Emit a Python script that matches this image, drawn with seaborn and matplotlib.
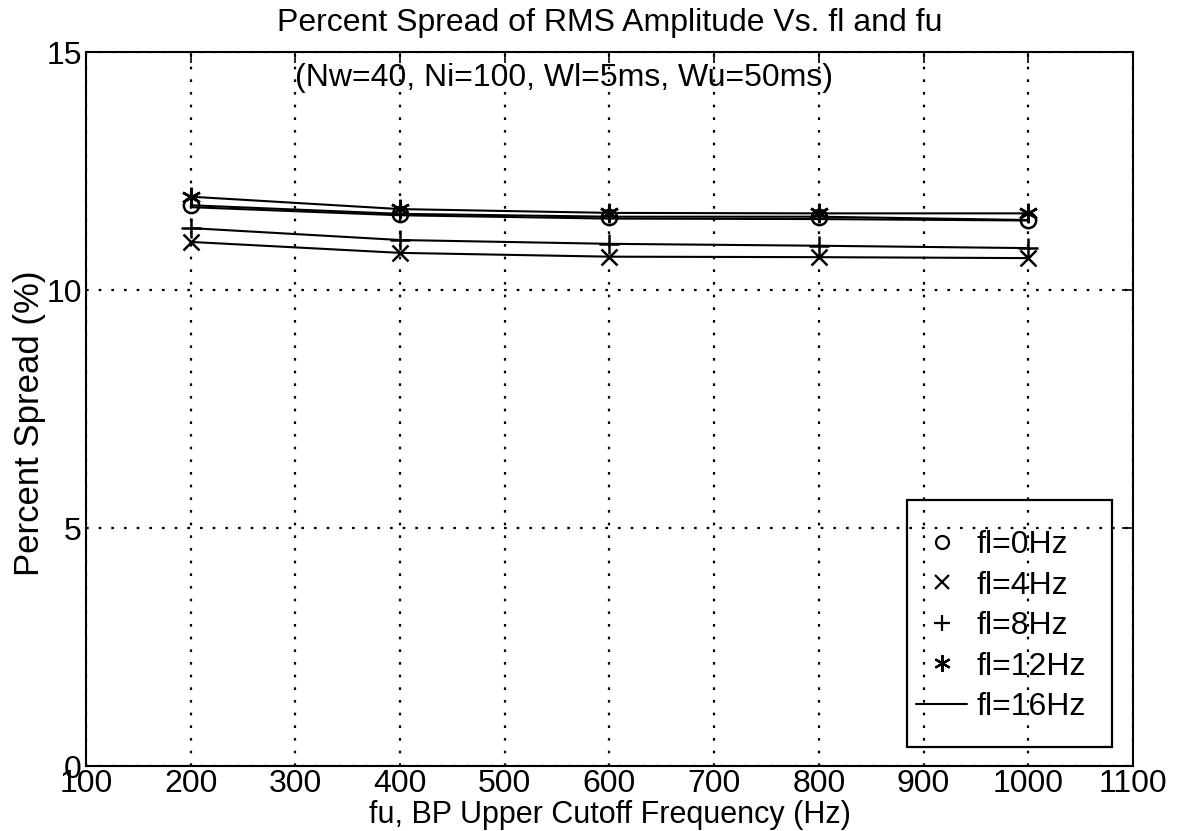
import matplotlib
matplotlib.use("Agg")
import matplotlib.pyplot as plt
from matplotlib.lines import Line2D
from matplotlib.patches import Rectangle
import seaborn as sns
import pandas as pd

fu = [200, 400, 600, 800, 1000]
fl0 = [11.78, 11.60, 11.54, 11.54, 11.47]
fl4 = [11.01, 10.78, 10.70, 10.69, 10.67]
fl8 = [11.30, 11.05, 10.97, 10.93, 10.88]
fl12 = [11.96, 11.70, 11.62, 11.61, 11.61]
fl16 = [11.74, 11.57, 11.50, 11.49, 11.46]
labels = ["fl=0Hz", "fl=4Hz", "fl=8Hz", "fl=12Hz", "fl=16Hz"]
xticks = [100, 200, 300, 400, 500, 600, 700, 800, 900, 1000, 1100]
yticks = [0, 5, 10, 15]

sns.set_style("white")
plt.rcParams['font.family'] = ['Liberation Sans', 'DejaVu Sans']
plt.rcParams['text.color'] = 'k'
plt.rcParams['axes.labelcolor'] = 'k'

fig = plt.figure(figsize=(11.91, 8.31), dpi=100)
ax = fig.add_axes([86/1191, 1-766/831, (1133-86)/1191, (766-52)/831])

asterisk = (6, 2, 0)
series = [fl0, fl4, fl8, fl12, fl16]
markers = ['o', 'x', '+', asterisk, None]
msizes = [11, 12, 14, 14, 0]
for vals, m, ms in zip(series, markers, msizes):
    df = pd.DataFrame({"fu": fu, "v": vals})
    kw = dict(color='k', linewidth=1.5, ax=ax)
    if m is not None:
        kw.update(marker=m, markersize=ms, markerfacecolor='none',
                  markeredgecolor='k', markeredgewidth=1.8)
    sns.lineplot(data=df, x="fu", y="v", **kw)

ax.set_xlim(100, 1100)
ax.set_ylim(0, 15)
ax.set_xticks(xticks)
ax.set_yticks(yticks)
ax.set_xticklabels([str(t) for t in xticks])
ax.set_yticklabels([str(t) for t in yticks])
ax.grid(True, color='k', linestyle=(0, (1.2, 4.5)), linewidth=1.6)
ax.tick_params(direction='in', top=True, right=True, length=8, width=1.2,
               labelsize=23, colors='k')
ax.tick_params(axis='x', pad=2)
ax.tick_params(axis='y', pad=3)
for s in ax.spines.values():
    s.set_visible(True)
    s.set_color('k')
    s.set_linewidth(1.5)

ax.set_xlabel("fu, BP Upper Cutoff Frequency (Hz)", fontsize=22, va='center')
ax.xaxis.set_label_coords(0.5, -(815-766)/714)
ax.set_ylabel("Percent Spread (%)", fontsize=25, va='center')
ax.yaxis.set_label_coords(-(86-30)/1047, (766-423)/714)
fig.text(0.5 * (86 + 1133) / 1191, 1 - 23/831,
         "Percent Spread of RMS Amplitude Vs. fl and fu",
         fontsize=23, ha='center', va='center')
ax.text(300, 14.45, "(Nw=40, Ni=100, Wl=5ms, Wu=50ms)", fontsize=23,
        ha='left', va='center')

# legend frame (MATLAB-style, transparent so the grid shows through)
ax.add_patch(Rectangle(((907-86)/1047, (766-747)/714),
                       (1112-907)/1047, (747-500)/714,
                       transform=ax.transAxes, facecolor='none',
                       edgecolor='k', linewidth=1.6, zorder=5))

handles = []
for m, ms in zip(markers, msizes):
    if m is None:
        handles.append(Line2D([], [], color='k', linewidth=1.5))
    else:
        handles.append(Line2D([], [], color='k', linestyle='none', marker=m,
                              markersize=ms * 0.85, markerfacecolor='none',
                              markeredgewidth=1.6))
leg = ax.legend(handles, labels, loc='upper left',
                bbox_to_anchor=((916-86)/1047, (766-530)/714),
                fontsize=23, frameon=False, handlelength=1.6,
                handletextpad=0.3, labelspacing=0.33, borderaxespad=0,
                borderpad=0)

fig.savefig("out.png", dpi=100, facecolor='white')
